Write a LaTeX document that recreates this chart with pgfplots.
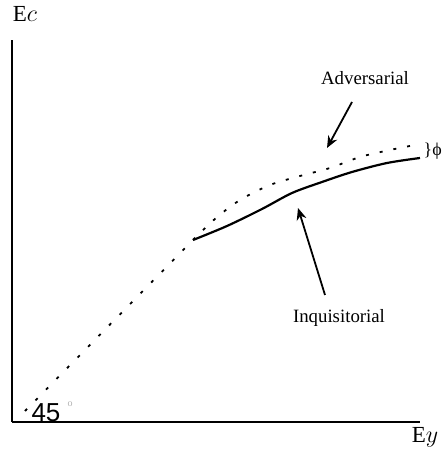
\documentclass[border=0pt]{standalone}
\usepackage{fontspec}
\setmainfont{Liberation Serif}
\newfontfamily\arialfont{Liberation Sans}
\usepackage{pgfplots}
\pgfplotsset{compat=1.18}
\usetikzlibrary{arrows.meta}

% curves in pixel-like units (origin at the axes corner)
\pgfplotstableread{
x y
13 11
181 182
}\diagonal
\pgfplotstableread{
x y
181 182
204 204
228 222
258 237
288 246
318 254
348 265
378 272
403 277
}\adversarial
\pgfplotstableread{
x y
181 182
215 196
250 213
280 229
310 240
340 250
375 259
408 264
}\inquisitorial

\begin{document}
\begin{tikzpicture}
\begin{axis}[
    x=0.5pt, y=0.5pt,
    xmin=0, xmax=408,
    ymin=0, ymax=382,
    axis lines=left,
    axis line style={-, line width=0.8pt},
    xtick=\empty, ytick=\empty,
    clip=false,
]
\addplot[black, line width=0.9pt, dash pattern=on 1.5pt off 6pt] table {\diagonal};
\addplot[black, line width=0.9pt, dash pattern=on 1.5pt off 5.5pt, smooth] table {\adversarial};
\addplot[black, line width=1.1pt, smooth] table {\inquisitorial};

\draw[line width=0.9pt, -{Stealth[length=6pt,width=5pt]}] (axis cs:340,320) -- (axis cs:315,274);
\draw[line width=0.9pt, -{Stealth[length=6pt,width=5pt]}] (axis cs:313,127) -- (axis cs:286,214);

\node[font=\fontsize{9.4}{10}\selectfont] at (axis cs:353,344) {Adversarial};
\node[font=\fontsize{9.4}{10}\selectfont] at (axis cs:327,104) {Inquisitorial};
\node[font=\fontsize{11.5}{12}\selectfont] at (axis cs:13,408) {E$c$};
\node[font=\fontsize{11.5}{12}\selectfont] at (axis cs:413,-15) {E$y$};
\node[font=\arialfont\fontsize{13}{14}\selectfont, inner sep=0pt] at (axis cs:34,9) {45};
\node[font=\fontsize{5}{6}\selectfont, text=gray!60, inner sep=0pt] at (axis cs:58,18) {o};
\node[font=\fontsize{9}{10}\selectfont, inner sep=0pt] at (axis cs:416,272) {\}};
\node[font=\fontsize{9}{10}\selectfont, inner sep=0pt] at (axis cs:425,271) {ϕ};

\coordinate (bl) at (axis cs:-12,-31);
\coordinate (tr) at (axis cs:431,422);
\end{axis}
\pgfresetboundingbox
\path (bl) rectangle (tr);
\end{tikzpicture}
\end{document}
